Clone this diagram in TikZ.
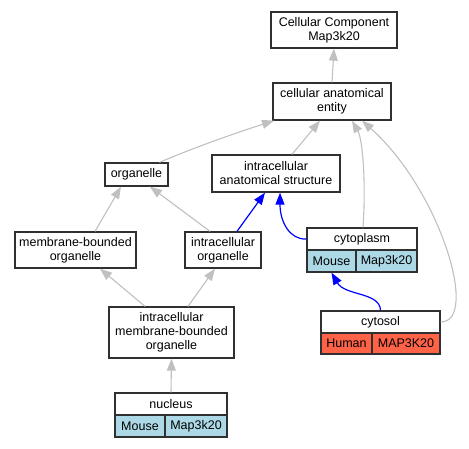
\documentclass[tikz,border=0pt]{standalone}
\usepackage{fontspec}
\setmainfont{Liberation Sans}
\usetikzlibrary{arrows.meta}
\definecolor{edgegray}{HTML}{C0C0C0}
\definecolor{lblue}{HTML}{ADD8E6}
\definecolor{tomato}{HTML}{FF6347}
\definecolor{bord}{HTML}{303030}
\tikzset{
  box/.style={draw=bord, line width=1.3pt, inner sep=0pt, align=center, fill=white,
    font=\fontsize{12.5}{14}\selectfont},
  gedge/.style={draw=edgegray, line width=1.1pt, -{Triangle[length=12pt,width=9pt]}},
  bedge/.style={draw=blue, line width=1.2pt, -{Triangle[length=12pt,width=9pt]}},
  mcell/.style={box, fill=lblue},
  hcell/.style={box, fill=tomato}
}
\begin{document}
\begin{tikzpicture}[x=1pt,y=-1pt]
\useasboundingbox (0,0) rectangle (469,448);
% nodes
\node[box, minimum width=126pt, minimum height=36pt] (cc) at (334,30) {Cellular Component\\Map3k20};
\node[box, minimum width=118pt, minimum height=37pt] (cae) at (332,101.5) {cellular anatomical\\entity};
\node[box, minimum width=63pt, minimum height=23pt] (org) at (136.5,174.5) {organelle};
\node[box, minimum width=128pt, minimum height=37pt] (ias) at (276,173.5) {intracellular\\anatomical structure};
\node[box, minimum width=121pt, minimum height=36pt] (mbo) at (75.5,250) {membrane-bounded\\organelle};
\node[box, minimum width=76pt, minimum height=36pt] (io) at (223,250) {intracellular\\organelle};
\node[box, minimum width=125pt, minimum height=51pt] (imbo) at (171.5,332.5) {intracellular\\membrane-bounded\\organelle};
% cytoplasm record
\node[box, minimum width=110pt, minimum height=22pt] (cyto) at (362,239) {cytoplasm};
\node[mcell, minimum width=49pt, minimum height=22pt] (cytom) at (331.5,261) {Mouse};
\node[mcell, minimum width=61pt, minimum height=22pt] (cytog) at (386.5,261) {Map3k20};
% cytosol record
\node[box, minimum width=119pt, minimum height=22pt] (csol) at (380.5,322) {cytosol};
\node[hcell, minimum width=51pt, minimum height=21pt] (csolh) at (346.5,343.5) {Human};
\node[hcell, minimum width=68pt, minimum height=21pt] (csolg) at (406,343.5) {MAP3K20};
% nucleus record
\node[box, minimum width=112pt, minimum height=22pt] (nuc) at (171,404) {nucleus};
\node[mcell, minimum width=50pt, minimum height=22pt] (nucm) at (140,426) {Mouse};
\node[mcell, minimum width=62pt, minimum height=22pt] (nucg) at (196,426) {Map3k20};
% gray edges
\draw[gedge] (cae.north) -- (cc.south);
\draw[gedge] ([xshift=23pt]org.north) .. controls (200,145) and (245,130) .. ([xshift=-58pt]cae.south);
\draw[gedge] ([xshift=16pt]ias.north) -- ([xshift=-12pt]cae.south);
\draw[gedge] ([xshift=1pt]cyto.north) .. controls (366,185) and (363,140) .. ([xshift=20pt]cae.south);
\draw[gedge] (csol.east) .. controls (480,322) and (440,190) .. ([xshift=30pt]cae.south);
\draw[gedge] ([xshift=19.5pt]mbo.north) -- ([xshift=-15.5pt]org.south);
\draw[gedge] ([xshift=-13pt]io.north) -- ([xshift=13.5pt]org.south);
\draw[gedge] ([xshift=-26.5pt]imbo.north) -- ([xshift=24.5pt]mbo.south);
\draw[gedge] ([xshift=16.5pt]imbo.north) -- ([xshift=-8pt]io.south);
\draw[gedge] (nuc.north) -- (imbo.south);
% blue edges
\draw[bedge] ([xshift=14pt]io.north) -- ([xshift=-11pt]ias.south);
\draw[bedge] (cyto.west) .. controls (290,240) and (280,222) .. ([xshift=4pt]ias.south);
\draw[bedge] (csol.north) .. controls (380,292) and (345,296) .. (cytom.south);
\end{tikzpicture}
\end{document}
